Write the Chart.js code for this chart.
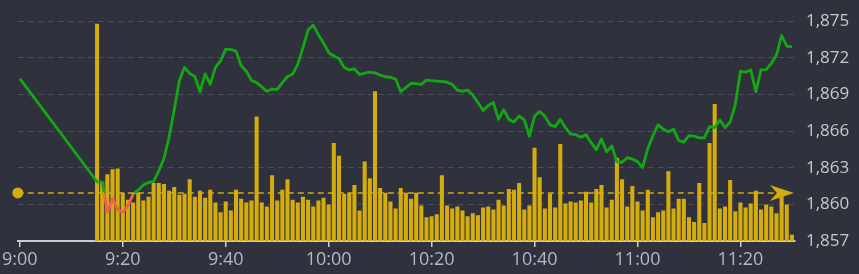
<!DOCTYPE html>
<html>
<head>
<meta charset="utf-8">
<script src="https://cdn.jsdelivr.net/npm/chart.js@4"></script>
<style>
  html, body { margin: 0; padding: 0; background: #2f323c; }
  #wrap { width: 859px; height: 274px; position: relative; }
</style>
</head>
<body>
<div id="wrap"><canvas id="c"></canvas></div>
<script>
// session starts 9:00, axis runs to 11:30
const sessionStart = "9:00";
const axisTicks = ["9:00", "9:20", "9:40", "10:00", "10:20", "10:40", "11:00", "11:20"];
const priceTicks = [1857, 1860, 1863, 1866, 1869, 1872, 1875];
const prevClose = 1860.94;

// minute bars run every minute from 9:15 to 11:30
const barStart = "9:15";
const barEnd = "11:30";

const openPrice = 1870.3; // 9:00 point
const prices = [
  1861.85, 1861.85, 1859.37, 1860.49, 1859.56, 1859.37, 1859.90, 1860.84, 1861.18, 1861.58,
  1861.80, 1861.88, 1862.75, 1863.76, 1865.50, 1867.76, 1870.15, 1871.22, 1870.72, 1870.47,
  1869.22, 1870.69, 1869.83, 1871.22, 1871.75, 1872.71, 1872.68, 1872.55, 1871.35, 1870.90,
  1870.15, 1869.97, 1869.62, 1869.25, 1869.44, 1869.41, 1869.97, 1870.47, 1870.65, 1871.49,
  1872.82, 1874.28, 1874.68, 1873.88, 1873.22, 1872.42, 1872.15, 1871.94, 1871.22, 1871.01,
  1871.09, 1870.63, 1870.74, 1870.82, 1870.77, 1870.58, 1870.45, 1870.41, 1870.26, 1869.22,
  1869.57, 1869.91, 1869.89, 1869.83, 1870.18, 1870.13, 1870.10, 1870.07, 1870.00, 1869.83,
  1869.36, 1869.25, 1869.36, 1868.96, 1868.34, 1867.68, 1868.10, 1868.34, 1866.96, 1867.76,
  1866.96, 1866.75, 1867.23, 1866.91, 1865.58, 1867.23, 1867.60, 1867.23, 1866.51, 1866.37,
  1866.96, 1866.29, 1865.76, 1865.71, 1865.50, 1865.71, 1865.05, 1864.48, 1865.36, 1864.30,
  1864.78, 1863.50, 1863.45, 1863.82, 1863.71, 1863.50, 1863.02, 1864.56, 1865.63, 1866.51,
  1866.16, 1865.95, 1866.16, 1865.23, 1865.10, 1865.63, 1865.58, 1865.44, 1865.44, 1866.37,
  1866.29, 1866.91, 1866.29, 1866.75, 1868.16, 1870.90, 1870.82, 1871.01, 1869.22, 1871.01,
  1871.03, 1871.54, 1872.23, 1873.83, 1872.95, 1872.90
];
const volumes = [
  222, 60, 68, 73, 74, 49, 42, 39, 49, 41, 45, 59, 59, 58, 51, 55, 47, 48, 63, 45,
  51, 44, 52, 39, 29, 40, 31, 52, 43, 39, 41, 127, 39, 35, 67, 41, 52, 63, 42, 39,
  45, 42, 35, 41, 44, 37, 100, 87, 48, 49, 57, 31, 81, 64, 153, 54, 49, 40, 33, 54,
  49, 43, 49, 36, 24, 25, 27, 67, 36, 33, 35, 31, 25, 28, 26, 34, 35, 32, 42, 36,
  53, 52, 59, 32, 36, 95, 65, 33, 48, 34, 99, 38, 40, 39, 41, 50, 39, 53, 57, 34,
  42, 85, 63, 35, 56, 40, 31, 52, 24, 29, 31, 71, 33, 43, 43, 24, 19, 59, 18, 100,
  140, 33, 35, 62, 30, 39, 34, 38, 51, 32, 37, 35, 28, 46, 37, 6
];

const GREEN = "#13a813";
const RED = "#ef6250";
const GOLD = "#d4ac0d";

function toMin0() {
  const [h, m] = sessionStart.split(":").map(Number);
  return h * 60 + m;
}
function toMin(t) {
  const [h, m] = t.split(":").map(Number);
  return h * 60 + m - toMin0();
}
function fmtMin(v) {
  const total = toMin0() + v;
  return Math.floor(total / 60) + ":" + String(total % 60).padStart(2, "0");
}

const first = toMin(barStart);
const barMinutes = volumes.map((_, i) => first + i);
const priceMinutes = [0, ...prices.map((_, i) => first + i)];
const priceSeries = [openPrice, ...prices];

const refLine = {
  id: "refLine",
  afterDatasetsDraw(chart) {
    const { ctx, chartArea, scales } = chart;
    const y = scales.y.getPixelForValue(prevClose);
    const tipX = scales.x.getPixelForValue(toMin(barEnd)) + 2;
    ctx.save();
    ctx.strokeStyle = GOLD;
    ctx.lineWidth = 1.5;
    ctx.setLineDash([6, 4]);
    ctx.beginPath();
    ctx.moveTo(chartArea.left, y);
    ctx.lineTo(tipX - 16, y);
    ctx.stroke();
    ctx.setLineDash([]);
    ctx.fillStyle = GOLD;
    ctx.beginPath();
    ctx.arc(chartArea.left, y, 5.5, 0, Math.PI * 2);
    ctx.fill();
    ctx.beginPath();
    ctx.moveTo(tipX, y);
    ctx.lineTo(tipX - 24, y - 8);
    ctx.lineTo(tipX - 17, y);
    ctx.lineTo(tipX - 24, y + 8);
    ctx.closePath();
    ctx.fill();
    ctx.restore();
  }
};

new Chart(document.getElementById("c"), {
  data: {
    datasets: [
      {
        type: "line",
        data: priceMinutes.map((m, i) => ({ x: m, y: priceSeries[i] })),
        yAxisID: "y",
        borderWidth: 2.8,
        pointRadius: 0,
        tension: 0,
        borderJoinStyle: "round",
        order: 0,
        borderColor: (context) => {
          const { chart } = context;
          const { chartArea, scales } = chart;
          if (!chartArea) return GREEN;
          const g = chart.ctx.createLinearGradient(0, chartArea.top, 0, chartArea.bottom);
          const t = (scales.y.getPixelForValue(prevClose) - chartArea.top) / (chartArea.bottom - chartArea.top);
          g.addColorStop(0, GREEN);
          g.addColorStop(t, GREEN);
          g.addColorStop(t, RED);
          g.addColorStop(1, RED);
          return g;
        },
      },
      {
        type: "bar",
        data: barMinutes.map((m, i) => ({ x: m, y: volumes[i] })),
        yAxisID: "yv",
        backgroundColor: GOLD,
        barThickness: 3.4,
        order: 1,
      },
    ],
  },
  options: {
    responsive: true,
    maintainAspectRatio: false,
    animation: false,
    layout: { padding: { left: 17, top: 16, right: 0, bottom: 0 } },
    plugins: { legend: { display: false }, tooltip: { enabled: false } },
    scales: {
      x: {
        type: "linear",
        min: -0.4,
        max: 150.6,
        offset: false,
        afterBuildTicks: (axis) => {
          axis.ticks = axisTicks.map((t) => ({ value: toMin(t) }));
        },
        afterFit: (s) => { s.height = 33; },
        ticks: {
          callback: (v) => fmtMin(v),
          color: "#b4b8c4",
          font: { family: "Open Sans", size: 18 },
          padding: 2,
          maxRotation: 0,
        },
        grid: { offset: false, drawOnChartArea: false, drawTicks: true, tickLength: 6, color: "#c8ccd4", lineWidth: 1.5 },
        border: { display: true, color: "#c8ccd4", width: 2 },
      },
      y: {
        position: "right",
        min: 1857,
        max: 1875,
        afterBuildTicks: (axis) => {
          axis.ticks = priceTicks.map((v) => ({ value: v }));
        },
        afterFit: (s) => { s.width = 64; },
        ticks: {
          callback: (v) => v.toLocaleString("en-US"),
          color: "#c4c8d0",
          font: { family: "Open Sans", size: 17 },
          padding: 11,
        },
        grid: { color: "#4b4e5a", lineWidth: 1, drawTicks: false },
        border: { display: false, dash: [6, 4] },
      },
      yv: {
        display: false,
        min: 0,
        max: 225,
      },
    },
  },
  plugins: [refLine],
});
</script>
</body>
</html>
